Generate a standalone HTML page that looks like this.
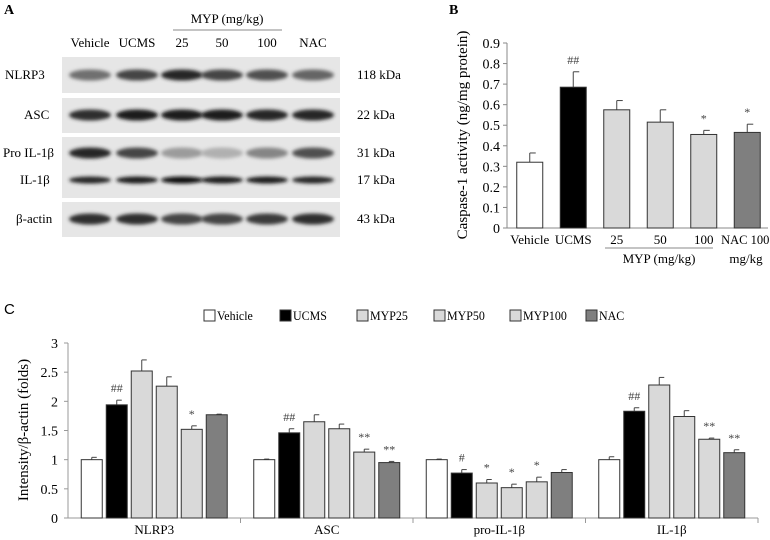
<!DOCTYPE html>
<html><head><meta charset="utf-8"><style>
body{margin:0;background:#fff}
svg{display:block;font-family:"Liberation Serif",serif}
</style></head><body>
<svg id="fig" width="770" height="540" viewBox="0 0 770 540">
<defs><filter id="blur" x="-30%" y="-100%" width="160%" height="300%"><feGaussianBlur stdDeviation="1.8"/></filter></defs>
<g id="panelA">
<text x="4" y="14" font-size="14" font-weight="bold">A</text>
<text x="227" y="23" font-size="13" text-anchor="middle">MYP (mg/kg)</text>
<line x1="173" y1="30" x2="282" y2="30" stroke="#888" stroke-width="1"/>
</g>
<g id="panelB">
<text x="449" y="14" font-size="14" font-weight="bold">B</text>
<text transform="translate(467,135) rotate(-90)" font-size="15" text-anchor="middle">Caspase-1 activity (ng/mg protein)</text>
<line x1="605" y1="248" x2="713" y2="248" stroke="#888"/>
<text x="659" y="263" font-size="13" text-anchor="middle">MYP (mg/kg)</text>
<text x="746" y="263" font-size="13" text-anchor="middle">mg/kg</text>
</g>
<g id="panelC">
<text x="4" y="314" font-size="15" font-family="Liberation Sans,sans-serif">C</text>
<text transform="translate(28,430) rotate(-90)" font-size="15" text-anchor="middle">Intensity/β-actin (folds)</text>
</g>
</svg>
<script>
const NS="http://www.w3.org/2000/svg";
function mk(t,a,p){const e=document.createElementNS(NS,t);for(const k in a)e.setAttribute(k,a[k]);p.appendChild(e);return e;}
// ---- Panel A data ----
const laneNames=["Vehicle","UCMS","25","50","100","NAC"];
const blotRows=["NLRP3","ASC","Pro IL-1β","IL-1β","β-actin"];
const blotKDa=["118 kDa","22 kDa","31 kDa","17 kDa","43 kDa"];
const bandNLRP3=[0.55,0.75,0.9,0.75,0.7,0.6];
const bandASC=[0.85,0.95,0.95,0.95,0.9,0.9];
const bandPro=[0.9,0.75,0.35,0.25,0.45,0.7];
const bandIL=[0.9,0.95,1.0,0.95,0.95,0.9];
const bandActin=[0.85,0.85,0.75,0.75,0.8,0.85];
const A=document.getElementById('panelA');
const laneX=[90,137,182,222,267,313];
const rowY=[75,115,153,180,219];
const strips=[[57,93],[98,133],[137,198],[202,237]];
strips.forEach((s,i)=>{const r=mk('rect',{x:62,y:s[0],width:278,height:s[1]-s[0],fill:'#e6e6e6'},A);

});
laneNames.forEach((n,i)=>{const t=mk('text',{x:laneX[i],y:47,'font-size':13,'text-anchor':'middle'},A);t.textContent=n;

});
const labX=[5,24,3,20,16];
blotRows.forEach((n,i)=>{const t=mk('text',{x:labX[i],y:rowY[i]+4,'font-size':13},A);t.textContent=n;


const k=mk('text',{x:357,y:rowY[i]+4,'font-size':13},A);k.textContent=blotKDa[i];

});
[bandNLRP3,bandASC,bandPro,bandIL,bandActin].forEach((arr,r)=>{arr.forEach((v,i)=>{
const g=Math.max(0,Math.round(230-215*v));
const e=mk('ellipse',{cx:laneX[i],cy:rowY[r],rx:21,ry:r==3?3.5:5.5,fill:`rgb(${g},${g},${g})`,filter:'url(#blur)'},A);

});});
// ---- Panel B data ----
const bCats=["Vehicle","UCMS","25","50","100","NAC 100"];
const bVals=[0.32,0.685,0.575,0.515,0.455,0.465];
const bErr=[0.045,0.075,0.045,0.06,0.02,0.04];
const bAnn=["","##","","","*","*"];
const bTicks=[0,0.1,0.2,0.3,0.4,0.5,0.6,0.7,0.8,0.9];
const fills=["#ffffff","#000000","#d9d9d9","#d9d9d9","#d9d9d9","#7f7f7f"];
const B=document.getElementById('panelB');
const bx0=507,bx1=768,by0=228,by1=43;
const bY=v=>by0-(v/0.9)*(by0-by1);
const bBand=(bx1-bx0)/bCats.length;
const bX=i=>bx0+bBand*(i+0.5)+1;
mk('line',{x1:bx0,y1:by0,x2:bx1,y2:by0,stroke:'#888'},B);
mk('line',{x1:bx0,y1:by0,x2:bx0,y2:by1,stroke:'#888'},B);
bTicks.forEach(v=>{mk('line',{x1:bx0-4,y1:bY(v),x2:bx0,y2:bY(v),stroke:'#888'},B);
const t=mk('text',{x:bx0-7,y:bY(v)+5,'font-size':14,'text-anchor':'end'},B);t.textContent=String(v);

});
bCats.forEach((c,i)=>{const x=bX(i),w=26;
const top=bY(bVals[i]+bErr[i]);
mk('line',{x1:x,y1:bY(bVals[i]),x2:x,y2:top,stroke:'#444'},B);
mk('line',{x1:x,y1:top,x2:x+6,y2:top,stroke:'#444'},B);
const r=mk('rect',{x:x-w/2,y:bY(bVals[i]),width:w,height:by0-bY(bVals[i]),fill:fills[i],stroke:'#333','stroke-width':1},B);


if(bAnn[i]){const a=mk('text',{x:x,y:top-8,'font-size':12,'text-anchor':'middle',fill:'#444'},B);a.textContent=bAnn[i];

}
const t=mk('text',{x:i==5?x-2:x,y:244,'font-size':i==5?12.5:13,'text-anchor':'middle'},B);t.textContent=c;

});
// ---- Panel C data ----
const cGroups=["NLRP3","ASC","pro-IL-1β","IL-1β"];
const cSeries=["Vehicle","UCMS","MYP25","MYP50","MYP100","NAC"];
const cVehicle=[1.0,1.0,1.0,1.0];
const cUCMS=[1.94,1.46,0.77,1.83];
const cMYP25=[2.52,1.65,0.60,2.28];
const cMYP50=[2.26,1.53,0.52,1.74];
const cMYP100=[1.52,1.13,0.62,1.35];
const cNAC=[1.77,0.95,0.78,1.12];
const cErrVehicle=[0.04,0.01,0.01,0.05];
const cErrUCMS=[0.08,0.07,0.06,0.06];
const cErrMYP25=[0.19,0.12,0.06,0.13];
const cErrMYP50=[0.16,0.08,0.06,0.10];
const cErrMYP100=[0.06,0.05,0.08,0.02];
const cErrNAC=[0.01,0.02,0.05,0.05];
const cAnnUCMS=["##","##","#","##"];
const cAnnMYP25=["","","*",""];
const cAnnMYP50=["","","*",""];
const cAnnMYP100=["*","**","*","**"];
const cAnnNAC=["","**","","**"];
const cTicks=[0,0.5,1,1.5,2,2.5,3];
const vals=[cVehicle,cUCMS,cMYP25,cMYP50,cMYP100,cNAC];
const errs=[cErrVehicle,cErrUCMS,cErrMYP25,cErrMYP50,cErrMYP100,cErrNAC];
const anns=[["","","",""],cAnnUCMS,cAnnMYP25,cAnnMYP50,cAnnMYP100,cAnnNAC];
const C=document.getElementById('panelC');
const cx0=68,cx1=758,cy0=518,cy1=343;
const cY=v=>cy0-(v/3)*(cy0-cy1);
const gW=(cx1-cx0)/cGroups.length;
const cX=(g,s)=>cx0+g*gW+gW/2+(s-2.5)*25;
mk('line',{x1:cx0,y1:cy0,x2:cx1,y2:cy0,stroke:'#999'},C);
mk('line',{x1:cx0,y1:cy0,x2:cx0,y2:cy1,stroke:'#999'},C);
for(let g=1;g<=cGroups.length;g++)mk('line',{x1:cx0+g*gW,y1:cy0,x2:cx0+g*gW,y2:cy0+5,stroke:'#999'},C);
cTicks.forEach(v=>{mk('line',{x1:cx0-4,y1:cY(v),x2:cx0,y2:cY(v),stroke:'#999'},C);
const t=mk('text',{x:cx0-10,y:cY(v)+5,'font-size':14,'text-anchor':'end'},C);t.textContent=String(v);

});
cGroups.forEach((gname,g)=>{
const t=mk('text',{x:cx0+g*gW+gW/2,y:534,'font-size':13,'text-anchor':'middle'},C);t.textContent=gname;


cSeries.forEach((s,i)=>{const x=cX(g,i),w=21,v=vals[i][g],top=cY(v+errs[i][g]);
mk('line',{x1:x,y1:cY(v),x2:x,y2:top,stroke:'#444'},C);
mk('line',{x1:x,y1:top,x2:x+5,y2:top,stroke:'#444'},C);
const r=mk('rect',{x:x-w/2,y:cY(v),width:w,height:cy0-cY(v),fill:fills[i],stroke:'#333','stroke-width':1},C);


if(anns[i][g]){const a=mk('text',{x:x,y:top-8,'font-size':12,'text-anchor':'middle',fill:'#444'},C);a.textContent=anns[i][g];

}});});
const legX=[204,280,357,434,510,586];
cSeries.forEach((s,i)=>{
const b=mk('rect',{x:legX[i],y:310,width:11,height:11,fill:fills[i],stroke:'#333'},C);


const t=mk('text',{x:0,y:0,'font-size':13,transform:`translate(${legX[i]+13},320) scale(0.92,1)`},C);t.textContent=s;

});
</script>
</body></html>
